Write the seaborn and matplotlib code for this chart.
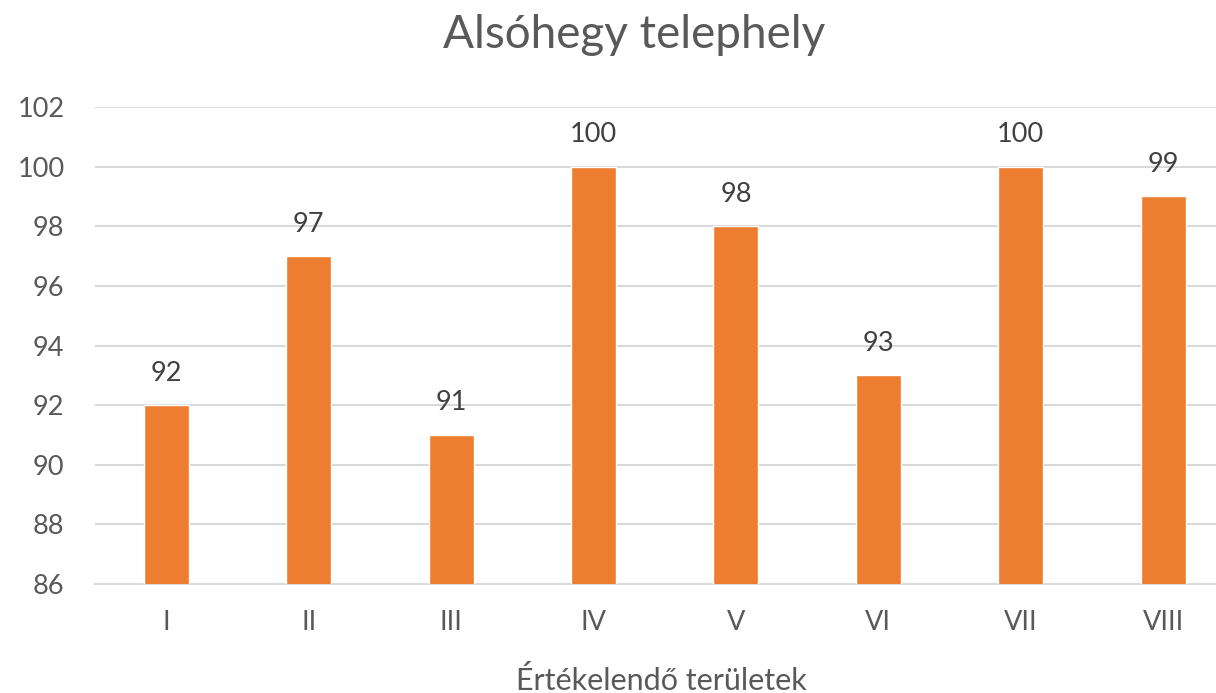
import matplotlib
matplotlib.use("Agg")
import matplotlib.pyplot as plt
import seaborn as sns
import pandas as pd

categories = ["I", "II", "III", "IV", "V", "VI", "VII", "VIII"]
values = [92, 97, 91, 100, 98, 93, 100, 99]
yticks = [86, 88, 90, 92, 94, 96, 98, 100, 102]

sns.set_theme(style="white")
plt.rcParams['font.family'] = ['Lato', 'DejaVu Sans']

df = pd.DataFrame({"cat": categories, "val": values})
fig = plt.figure(figsize=(12.16, 6.93), dpi=100)
ax = fig.add_axes([95/1216, 109/693, 1121/1216, 477/693])

sns.barplot(data=df, x="cat", y="val", color="#ED7D31", width=0.316,
            saturation=1, ax=ax, zorder=3)

txt = "#595959"
ax.set_ylim(86, 102)
ax.set_xlim(-0.5, 7.37)
ax.set_yticks(yticks)
ax.set_yticklabels([str(t) for t in yticks])
ax.grid(axis="y", color="#D9D9D9", linewidth=1.5, zorder=0)
ax.set_axisbelow(True)
for s in ["top", "right", "left"]:
    ax.spines[s].set_visible(False)
ax.spines["bottom"].set_color("#D9D9D9")
ax.spines["bottom"].set_linewidth(1.5)
ax.tick_params(axis="both", length=0, labelsize=19.5, colors=txt)
ax.tick_params(axis="x", pad=19)
ax.tick_params(axis="y", pad=22)

for i, v in enumerate(values):
    ax.annotate(str(v), (i, v), xytext=(0, 14), textcoords="offset points",
                ha="center", va="bottom", fontsize=19.5, color="#404040")

ax.set_xlabel("Értékelendő területek", fontsize=22, color=txt)
ax.xaxis.set_label_coords((661 - 95) / 1121, (584 - 680) / 477)
ax.xaxis.label.set_va("center")
ax.set_ylabel("")
fig.text(634 / 1216, 1 - 35/693, "Alsóhegy telephely", ha="center", va="center",
         fontsize=33, color=txt)

fig.savefig("out.png", dpi=100, facecolor="white")
